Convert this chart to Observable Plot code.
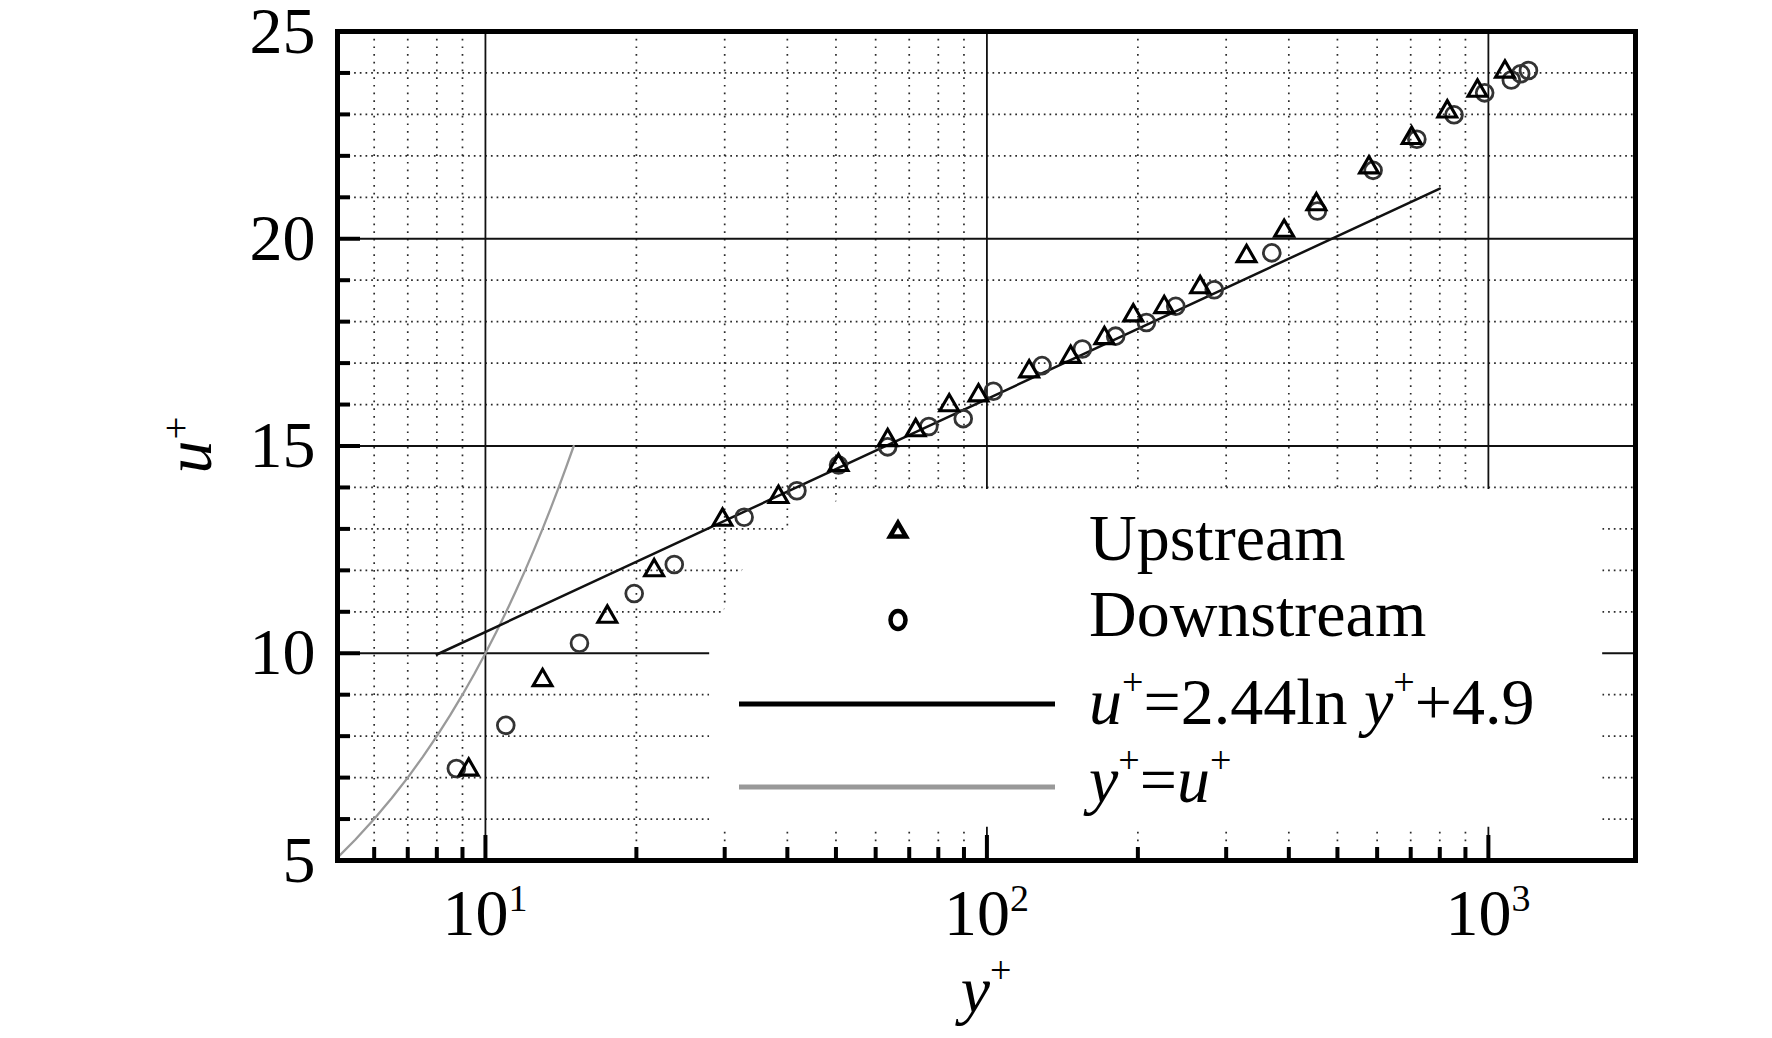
<!DOCTYPE html>
<html><head><meta charset="utf-8">
<script src="https://cdn.jsdelivr.net/npm/d3@7"></script>
<script src="https://cdn.jsdelivr.net/npm/@observablehq/plot@0.6"></script>
<style>
html,body{margin:0;padding:0;background:#fff;}
#chart{position:relative;width:1772px;height:1038px;overflow:hidden;}
</style></head><body><div id="chart"></div>
<script>
// ---- data ----
const upstreamYPlus = [9.26, 13.0, 17.5, 21.7, 29.7, 38.4, 50.6, 63.4, 72.1, 84.1, 96.2, 121.4, 146.9, 171.5, 195.8, 225.7, 266.2, 329.4, 391.5, 454, 578, 703, 828, 951, 1079];
const upstreamUPlus = [7.19, 9.35, 10.88, 12.0, 13.22, 13.77, 14.54, 15.14, 15.38, 15.98, 16.22, 16.8, 17.15, 17.6, 18.15, 18.35, 18.83, 19.58, 20.19, 20.83, 21.72, 22.43, 23.07, 23.57, 24.03];
const downstreamYPlus = [8.75, 10.98, 15.4, 19.8, 23.8, 32.8, 41.8, 50.6, 63.4, 76.6, 89.7, 103, 128.8, 155, 180.6, 208, 238, 284, 369.9, 456, 589, 720, 854, 983, 1111, 1160, 1202];
const downstreamUPlus = [7.22, 8.26, 10.24, 11.44, 12.14, 13.28, 13.92, 14.54, 14.98, 15.47, 15.66, 16.32, 16.94, 17.34, 17.65, 17.98, 18.37, 18.77, 19.66, 20.67, 21.65, 22.4, 22.99, 23.52, 23.83, 23.98, 24.06];
const logLawYPlus = [8, 800];
const logLawUPlus = [9.97, 21.21];
const sublayerYPlus = [5.07, 5.5, 6, 6.5, 7, 7.5, 8, 8.5, 9, 9.5, 10, 10.5, 11, 11.5, 12, 12.5, 13, 13.5, 14, 14.5, 15];
const sublayerUPlus = [5.07, 5.5, 6, 6.5, 7, 7.5, 8, 8.5, 9, 9.5, 10, 10.5, 11, 11.5, 12, 12.5, 13, 13.5, 14, 14.5, 15];

// ---- axes / ticks ----
const xDomain = [5.07, 1965];
const yDomain = [5, 25];
const xMajorTicks = [10, 100, 1000];
const xTickBase = "10";
const xTickExponents = ["1", "2", "3"];
const xMinorTicks = [6, 7, 8, 9, 20, 30, 40, 50, 60, 70, 80, 90, 200, 300, 400, 500, 600, 700, 800, 900];
const yMajorTicks = [5, 10, 15, 20, 25];
const yMajorGrid = [10, 15, 20];
const yMinorTicks = [6, 7, 8, 9, 11, 12, 13, 14, 16, 17, 18, 19, 21, 22, 23, 24];

// legend backdrop (white panel hiding the grid behind the legend)
const panelYPlus = [28, 30, 32.6, 40, 50, 60, 1690];
const panelTop = [10.6, 11.05, 12, 13, 13.65, 13.95, 13.95];
const panelBottom = 5.8;

// legend entries
const legendLabels = ["Upstream", "Downstream"];

const upstream = upstreamYPlus.map((x, i) => ({x, y: upstreamUPlus[i]}));
const downstream = downstreamYPlus.map((x, i) => ({x, y: downstreamUPlus[i]}));
const logLaw = logLawYPlus.map((x, i) => ({x, y: logLawUPlus[i]}));
const sublayer = sublayerYPlus.map((x, i) => ({x, y: sublayerUPlus[i]}));
const panel = panelYPlus.map((x, i) => ({x, y2: panelTop[i], y1: panelBottom}));

const W = 1772, H = 1038;
const mL = 337, mR = 137, mT = 31, mB = 178;
const plotW = W - mL - mR, plotH = H - mT - mB;
const FONT = "'Liberation Serif', 'Times New Roman', serif";

const plot = Plot.plot({
  width: W, height: H,
  marginLeft: mL, marginRight: mR, marginTop: mT, marginBottom: mB,
  style: {fontFamily: FONT, fontSize: "66px", background: "white", color: "black", overflow: "visible"},
  x: {type: "log", domain: xDomain, axis: null},
  y: {domain: yDomain},
  marks: [
    Plot.ruleY(yMinorTicks, {stroke: "#2a2a2a", strokeWidth: 1.7, strokeDasharray: "1.7,4"}),
    Plot.ruleX(xMinorTicks, {stroke: "#2a2a2a", strokeWidth: 1.7, strokeDasharray: "1.7,6"}),
    Plot.ruleY(yMajorGrid, {stroke: "#111", strokeWidth: 1.8}),
    Plot.ruleX(xMajorTicks, {stroke: "#111", strokeWidth: 1.8}),
    Plot.areaY(panel, {x: "x", y1: "y1", y2: "y2", fill: "white", curve: "linear"}),
    Plot.line(sublayer, {x: "x", y: "y", stroke: "#9a9a9a", strokeWidth: 2.3}),
    Plot.line(logLaw, {x: "x", y: "y", stroke: "#111", strokeWidth: 2.5}),
    Plot.dot(downstream, {x: "x", y: "y", symbol: "circle", r: 8.4, stroke: "#333", strokeWidth: 2.8, fill: "none"}),
    Plot.dot(upstream, {x: "x", y: "y", symbol: "triangle", r: 7.0, stroke: "#000", strokeWidth: 3.1, fill: "none", strokeLinejoin: "miter"}),
    Plot.frame({stroke: "#000", strokeWidth: 5}),
    Plot.tickX(xMinorTicks, {x: d => d, insetTop: plotH - 13, stroke: "#000", strokeWidth: 4}),
    Plot.tickX(xMajorTicks, {x: d => d, insetTop: plotH - 25, stroke: "#000", strokeWidth: 4}),
    Plot.tickY(yMinorTicks, {y: d => d, insetRight: plotW - 13, stroke: "#000", strokeWidth: 4}),
    Plot.tickY(yMajorTicks, {y: d => d, insetRight: plotW - 23, stroke: "#000", strokeWidth: 4}),
    Plot.axisY(yMajorTicks, {tickSize: 0, tickPadding: 22, label: null, fontSize: 66, tickFormat: d => String(d)})
  ]
});

document.getElementById("chart").appendChild(plot);

const xs = plot.scale("x");
const svg = d3.select(plot);
const g = svg.append("g").attr("font-family", FONT).attr("fill", "black").attr("text-anchor", "start");

// x tick labels 10^n, placed through the plot's x scale
xMajorTicks.forEach((v, i) => {
  const t = g.append("text").attr("x", xs.apply(v)).attr("y", 935).attr("text-anchor", "middle").attr("font-size", 66);
  t.append("tspan").text(xTickBase);
  t.append("tspan").attr("font-size", 38).attr("dy", -24).text(xTickExponents[i]);
});

// x-axis title: y+
const xt = g.append("text").attr("x", 986).attr("y", 1012).attr("text-anchor", "middle").attr("font-size", 66);
xt.append("tspan").attr("font-style", "italic").text("y");
xt.append("tspan").attr("font-size", 38).attr("dy", -29).text("+");

// y-axis title: u (rotated) with an upright +
g.append("text").attr("transform", "translate(211,457) rotate(-90)").attr("text-anchor", "middle")
  .attr("font-size", 66).attr("font-style", "italic").text("u");
g.append("text").attr("x", 176).attr("y", 441).attr("text-anchor", "middle").attr("font-size", 40).text("+");

// legend
const lg = g.append("g");
const triSide = 16;
const th = triSide * Math.sqrt(3) / 2;
lg.append("path")
  .attr("d", `M898,${532 - th * 2 / 3}L${898 + triSide / 2},${532 + th / 3}L${898 - triSide / 2},${532 + th / 3}Z`)
  .attr("fill", "none").attr("stroke", "#000").attr("stroke-width", 4.5).attr("stroke-linejoin", "miter");
lg.append("ellipse").attr("cx", 898).attr("cy", 620).attr("rx", 7.5).attr("ry", 9)
  .attr("fill", "none").attr("stroke", "#000").attr("stroke-width", 4.5);
lg.append("line").attr("x1", 739).attr("x2", 1055).attr("y1", 704).attr("y2", 704)
  .attr("stroke", "#000").attr("stroke-width", 5);
lg.append("line").attr("x1", 739).attr("x2", 1055).attr("y1", 787).attr("y2", 787)
  .attr("stroke", "#999").attr("stroke-width", 5);

lg.append("text").attr("x", 1089).attr("y", 560).attr("font-size", 66).text(legendLabels[0]);
lg.append("text").attr("x", 1089).attr("y", 636).attr("font-size", 66).text(legendLabels[1]);

const t3 = lg.append("text").attr("x", 1089).attr("y", 724).attr("font-size", 66);
t3.append("tspan").attr("font-style", "italic").text("u");
t3.append("tspan").attr("font-size", 38).attr("dy", -29).text("+");
t3.append("tspan").attr("dy", 29).text("=2.44ln ");
t3.append("tspan").attr("font-style", "italic").text("y");
t3.append("tspan").attr("font-size", 38).attr("dy", -29).text("+");
t3.append("tspan").attr("dy", 29).text("+4.9");

const t4 = lg.append("text").attr("x", 1089).attr("y", 802).attr("font-size", 66);
t4.append("tspan").attr("font-style", "italic").text("y");
t4.append("tspan").attr("font-size", 38).attr("dy", -29).text("+");
t4.append("tspan").attr("dy", 29).text("=");
t4.append("tspan").attr("font-style", "italic").text("u");
t4.append("tspan").attr("font-size", 38).attr("dy", -29).text("+");
</script>
</body></html>
